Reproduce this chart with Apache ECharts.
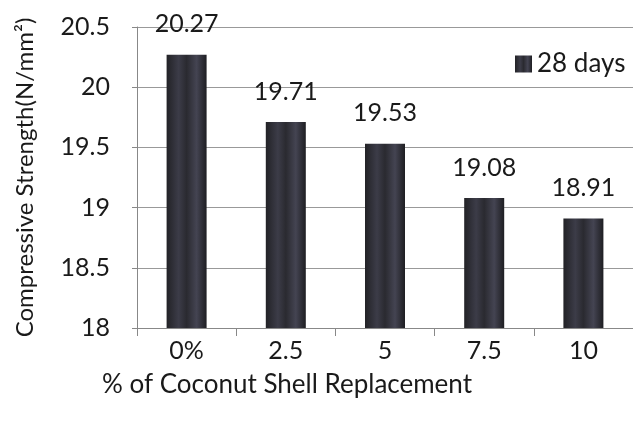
<!DOCTYPE html>
<html>
<head>
<meta charset="utf-8">
<script src="https://cdn.jsdelivr.net/npm/echarts@6/dist/echarts.min.js"></script>
<style>
  html, body { margin: 0; padding: 0; background: #fff; }
  #main { width: 633px; height: 425px; }
</style>
</head>
<body>
<div id="main"></div>
<script>
var categories = ['0%', '2.5', '5', '7.5', '10'];
var strength28 = [20.27, 19.71, 19.53, 19.08, 18.91];
var yTicks = [18, 18.5, 19, 19.5, 20, 20.5];

var myChart = echarts.init(document.getElementById('main'));
var font = 'Lato, "Open Sans", sans-serif';

var option = {
  animation: false,
  textStyle: { fontFamily: font },
  legend: {
    left: 510,
    top: 46,
    icon: 'rect',
    itemWidth: 17,
    itemHeight: 17,
    itemGap: 4,
    textStyle: { fontSize: 26, color: '#1a1a1a', fontFamily: font },
    data: ['28 days']
  },
  grid: {
    left: 137,
    top: 27,
    width: 499,
    bottom: 97
  },
  xAxis: {
    type: 'category',
    data: categories,
    name: '% of Coconut Shell Replacement',
    nameLocation: 'middle',
    nameGap: 44,
    nameTextStyle: { fontSize: 26, color: '#1a1a1a', padding: [0, 196, 0, 0] },
    axisLine: { lineStyle: { color: '#888', width: 1 } },
    axisTick: { show: true, length: 8, lineStyle: { color: '#888' } },
    axisLabel: { fontSize: 25, color: '#1a1a1a', margin: 10 }
  },
  yAxis: {
    type: 'value',
    min: yTicks[0],
    max: yTicks[yTicks.length - 1],
    interval: 0.5,
    name: 'Compressive Strength(N/mm²)',
    nameLocation: 'middle',
    nameGap: 100,
    nameTextStyle: { fontSize: 24, color: '#1a1a1a' },
    axisLine: { show: true, lineStyle: { color: '#888', width: 1 } },
    axisTick: { show: true, length: 5, lineStyle: { color: '#888' } },
    axisLabel: { fontSize: 25, color: '#1a1a1a', margin: 27 },
    splitLine: { lineStyle: { color: '#999', width: 1 } }
  },
  series: [
    {
      name: '28 days',
      type: 'bar',
      data: strength28,
      barWidth: 40,
      itemStyle: {
        color: new echarts.graphic.LinearGradient(0, 0, 1, 0, [
          { offset: 0, color: '#222226' },
          { offset: 0.3, color: '#3c3c48' },
          { offset: 0.5, color: '#2a2a30' },
          { offset: 0.75, color: '#444452' },
          { offset: 1, color: '#1e1e22' }
        ])
      },
      label: {
        show: true,
        position: 'top',
        distance: 18,
        fontSize: 25,
        color: '#1a1a1a',
        formatter: function (p) { return p.value.toFixed(2); }
      }
    }
  ]
};
myChart.setOption(option);
</script>
</body>
</html>
